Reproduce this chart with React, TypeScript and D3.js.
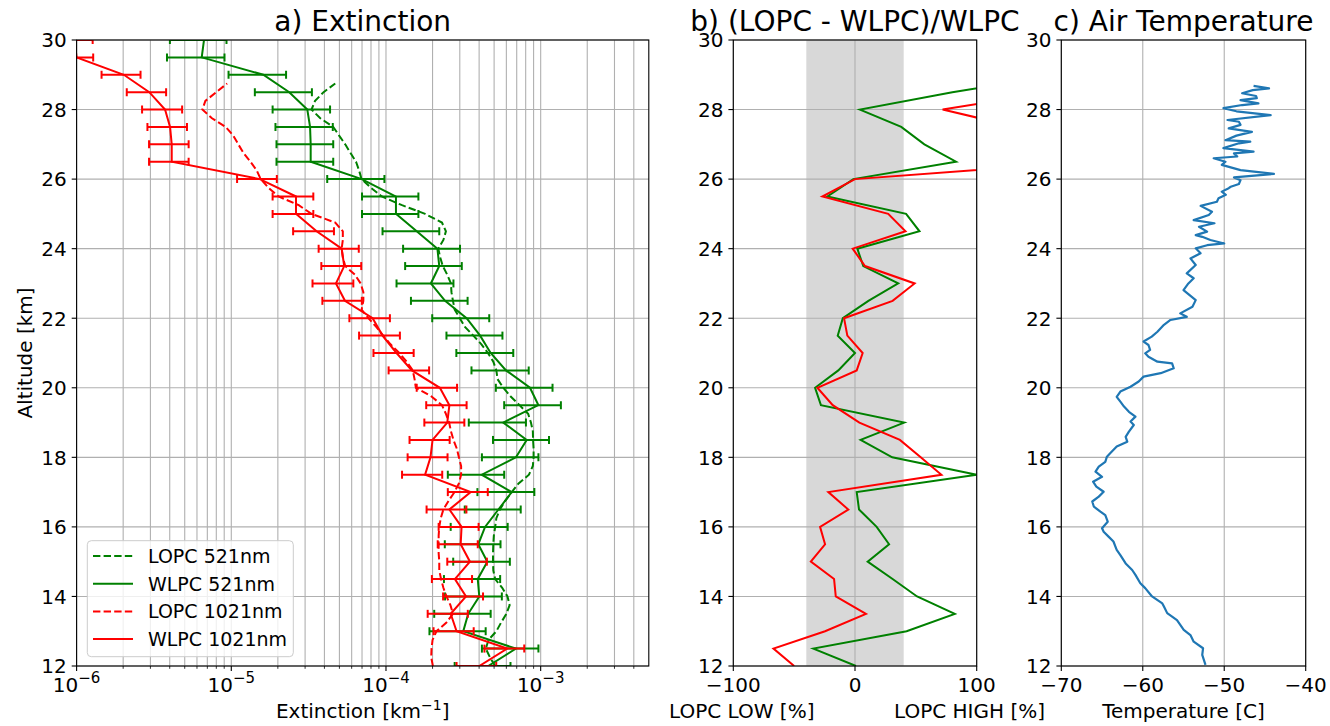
import React, { useEffect, useRef } from "react";
import * as d3 from "d3";

// a) extinction, WLPC every 0.5 km (with error bars)
const altWLPC = [12, 12.5, 13, 13.5, 14, 14.5, 15, 15.5, 16, 16.5, 17, 17.5, 18, 18.5, 19, 19.5, 20, 20.5, 21, 21.5, 22, 22.5, 23, 23.5, 24, 24.5, 25, 25.5, 26, 26.5, 27, 27.5, 28, 28.5, 29, 29.5, 30];
const wlpc521 = [4.58e-4, 6.92e-4, 3.16e-4, 3.4e-4, 4.01e-4, 3.92e-4, 4.52e-4, 3.95e-4, 4.37e-4, 5.33e-4, 6.5e-4, 4.16e-4, 6.92e-4, 8.12e-4, 5.73e-4, 9.66e-4, 8.53e-4, 5.97e-4, 4.75e-4, 4.06e-4, 3.32e-4, 2.41e-4, 1.95e-4, 2.21e-4, 2.15e-4, 1.58e-4, 1.16e-4, 1.16e-4, 6.97e-5, 3.26e-5, 3.26e-5, 3.23e-5, 3.1e-5, 2.37e-5, 1.61e-5, 6.44e-6, 6.66e-6];
const wlpc521Err = [1.8e-4, 2.75e-4, 1.25e-4, 1.35e-4, 1.6e-4, 1.55e-4, 1.8e-4, 1.55e-4, 1.75e-4, 2.1e-4, 2.6e-4, 1.65e-4, 2.75e-4, 3.2e-4, 2.3e-4, 3.85e-4, 3.4e-4, 2.4e-4, 1.9e-4, 1.6e-4, 1.33e-4, 9.6e-5, 7.8e-5, 8.8e-5, 8.6e-5, 6.3e-5, 4.6e-5, 4.6e-5, 2.8e-5, 1.3e-5, 1.3e-5, 1.3e-5, 1.25e-5, 9.5e-6, 6.5e-6, 2.6e-6, 2.65e-6];
const wlpc1021 = [4.01e-4, 6.08e-4, 2.86e-4, 2.62e-4, 3.29e-4, 2.79e-4, 3.49e-4, 3.04e-4, 3.08e-4, 2.57e-4, 3.53e-4, 1.79e-4, 1.94e-4, 2.0e-4, 2.49e-4, 2.57e-4, 2.23e-4, 1.47e-4, 1.17e-4, 9.5e-5, 8.2e-5, 5.43e-5, 4.75e-5, 5.37e-5, 5.17e-5, 3.56e-5, 2.62e-5, 2.62e-5, 1.53e-5, 4.12e-6, 4.12e-6, 4.02e-6, 3.73e-6, 2.95e-6, 2.02e-6, 1.0e-6, 0.97e-6];
const wlpc1021Err = [1.15e-4, 1.75e-4, 8.3e-5, 7.6e-5, 9.5e-5, 8.1e-5, 1.0e-4, 8.8e-5, 8.9e-5, 7.4e-5, 1.02e-4, 5.2e-5, 5.6e-5, 5.8e-5, 7.2e-5, 7.5e-5, 6.5e-5, 4.3e-5, 3.4e-5, 2.8e-5, 2.4e-5, 1.55e-5, 1.4e-5, 1.55e-5, 1.5e-5, 1.05e-5, 7.7e-6, 7.7e-6, 4.4e-6, 1.18e-6, 1.18e-6, 1.15e-6, 1.08e-6, 0.84e-6, 0.57e-6, 0.28e-6, 0.3e-6];

// LOPC every 0.25 km
const altLOPC = [12, 12.25, 12.5, 12.75, 13, 13.25, 13.5, 13.75, 14, 14.25, 14.5, 14.75, 15, 15.25, 15.5, 15.75, 16, 16.25, 16.5, 16.75, 17, 17.25, 17.5, 17.75, 18, 18.25, 18.5, 18.75, 19, 19.25, 19.5, 19.75, 20, 20.25, 20.5, 20.75, 21, 21.25, 21.5, 21.75, 22, 22.25, 22.5, 22.75, 23, 23.25, 23.5, 23.75, 24, 24.25, 24.5, 24.75, 25, 25.25, 25.5, 25.75, 26, 26.25, 26.5, 26.75, 27, 27.25, 27.5, 27.75, 28, 28.25, 28.5, 28.75];
const lopc521 = [5.08e-4, 4.7e-4, 4.42e-4, 4.6e-4, 5.17e-4, 5.55e-4, 6.0e-4, 6.3e-4, 6.1e-4, 5.64e-4, 5.08e-4, 4.94e-4, 4.92e-4, 4.92e-4, 4.94e-4, 4.98e-4, 5.08e-4, 5.17e-4, 5.45e-4, 5.9e-4, 6.5e-4, 7.2e-4, 8.4e-4, 8.9e-4, 9.0e-4, 9.0e-4, 8.93e-4, 8.9e-4, 8.65e-4, 8.3e-4, 7.3e-4, 6.4e-4, 5.73e-4, 5.26e-4, 5.17e-4, 4.94e-4, 4.56e-4, 4.14e-4, 3.67e-4, 3.24e-4, 3.0e-4, 2.78e-4, 2.71e-4, 2.65e-4, 2.63e-4, 2.49e-4, 2.33e-4, 2.24e-4, 2.18e-4, 2.35e-4, 2.44e-4, 2.3e-4, 1.79e-4, 1.27e-4, 9.4e-5, 8.0e-5, 6.95e-5, 6.7e-5, 6.4e-5, 5.9e-5, 5.45e-5, 4.98e-5, 4.56e-5, 3.76e-5, 3.3e-5, 3.48e-5, 3.95e-5, 4.7e-5];
const lopc1021 = [2.01e-4, 1.96e-4, 1.97e-4, 2.0e-4, 2.12e-4, 2.46e-4, 2.71e-4, 2.61e-4, 2.46e-4, 2.35e-4, 2.27e-4, 2.21e-4, 2.21e-4, 2.19e-4, 2.19e-4, 2.19e-4, 2.21e-4, 2.26e-4, 2.35e-4, 2.54e-4, 2.77e-4, 2.96e-4, 3.06e-4, 3.06e-4, 2.96e-4, 2.87e-4, 2.73e-4, 2.63e-4, 2.56e-4, 2.44e-4, 2.3e-4, 1.97e-4, 1.56e-4, 1.53e-4, 1.49e-4, 1.36e-4, 1.22e-4, 1.07e-4, 9.6e-5, 8.65e-5, 7.7e-5, 6.96e-5, 7.14e-5, 7.14e-5, 6.86e-5, 6.3e-5, 5.45e-5, 5.26e-5, 5.17e-5, 5.26e-5, 5.26e-5, 4.7e-5, 3.3e-5, 2.73e-5, 2.02e-5, 1.74e-5, 1.55e-5, 1.46e-5, 1.33e-5, 1.2e-5, 1.11e-5, 1.03e-5, 9.2e-6, 7.5e-6, 6.5e-6, 6.8e-6, 8.0e-6, 9.4e-6];

// b) relative difference [%]
const altDiff = [12, 12.5, 13, 13.5, 14, 14.5, 15, 15.5, 16, 16.5, 17, 17.5, 18, 18.5, 19, 19.5, 20, 20.5, 21, 21.5, 22, 22.5, 23, 23.5, 24, 24.5, 25, 25.5, 26, 26.5, 27, 27.5, 28, 28.5, 29];
const diff521 = [0.8, -34.2, 42.4, 82, 51, 30.9, 10.4, 28, 17.8, 3.3, 1.4, 100, 30.6, 4.6, 40.4, -28, -32.8, -13.7, 0, -14.2, -10, 11, 35.5, 6.8, 1.9, 53, 42, -22.7, -1.4, 83, 57, 38, 4.1, 80, 170];
const diff1021 = [-50, -67, -24.6, 9, -15.8, -17.2, -36.3, -24.6, -28.7, -5.5, -21.9, 71, 54, 36.9, 3.6, -18.3, -30.9, 1.4, 6.3, -6.3, -9, 30.9, 49, 8.2, -1.9, 41.5, 27.3, -26.8, 0, 190, 150, 133, 72, 160, null];

// c) air temperature
const tempAlt = [12.03, 12.32, 12.51, 12.7, 12.89, 13.04, 13.32, 13.52, 13.71, 13.8, 14.0, 14.24, 14.38, 14.62, 14.76, 14.95, 15.19, 15.34, 15.58, 15.72, 15.86, 15.96, 16.15, 16.34, 16.44, 16.58, 16.73, 16.87, 17.01, 17.16, 17.3, 17.44, 17.59, 17.73, 17.87, 18.02, 18.12, 18.31, 18.45, 18.59, 18.74, 18.93, 19.03, 19.17, 19.31, 19.46, 19.6, 19.74, 19.89, 20.03, 20.18, 20.32, 20.42, 20.56, 20.7, 20.75, 20.89, 20.99, 21.09, 21.23, 21.33, 21.47, 21.61, 21.81, 21.95, 22.04, 22.14, 22.33, 22.52, 22.81, 23.0, 23.15, 23.29, 23.53, 23.72, 23.87, 24.01, 24.1, 24.15, 24.25, 24.34, 24.39, 24.49, 24.63, 24.73, 24.82, 24.97, 25.06, 25.23, 25.35, 25.45, 25.55, 25.64, 25.74, 25.78, 25.86, 25.97, 26.05, 26.15, 26.26, 26.41, 26.5, 26.6, 26.65, 26.74, 26.79, 26.89, 27.03, 27.08, 27.12, 27.25, 27.36, 27.46, 27.56, 27.65, 27.7, 27.84, 27.95, 28.04, 28.13, 28.18, 28.27, 28.33, 28.39, 28.47, 28.56, 28.61, 28.68];
const tempC = [-52.3, -52.7, -52.6, -53.75, -54.15, -54.97, -55.8, -57.0, -57.4, -57.6, -58.86, -59.7, -60.3, -60.9, -61.3, -62.1, -62.75, -63.2, -63.6, -64.2, -64.8, -65.0, -64.3, -64.6, -65.2, -66.0, -66.2, -65.4, -64.8, -65.7, -66.1, -65.0, -65.8, -65.4, -64.6, -64.4, -64.0, -63.2, -61.9, -62.1, -61.7, -61.1, -61.5, -60.9, -61.7, -62.3, -62.75, -63.2, -62.75, -61.5, -60.5, -59.9, -57.8, -56.2, -56.4, -58.2, -59.3, -59.7, -59.1, -59.3, -59.9, -58.9, -58.2, -57.4, -56.6, -54.6, -55.4, -53.9, -53.5, -55.0, -54.4, -53.75, -54.6, -53.5, -54.15, -52.9, -53.5, -52.1, -50.0, -51.7, -52.7, -53.5, -52.1, -53.1, -51.2, -53.75, -51.9, -51.5, -52.9, -50.9, -50.7, -49.8, -50.3, -49.45, -49.2, -48.2, -48.0, -48.8, -43.9, -48.0, -50.3, -49.85, -51.3, -48.4, -48.8, -46.4, -50.1, -48.2, -46.8, -49.85, -48.5, -46.6, -49.45, -48.0, -48.2, -49.6, -44.3, -48.5, -50.1, -47.8, -45.8, -48.0, -46.0, -46.1, -47.8, -46.5, -44.5, -46.4];

const altTicks = [12, 14, 16, 18, 20, 22, 24, 26, 28, 30];
const extTicks = [1e-6, 1e-5, 1e-4, 1e-3];
const diffTicks = [-100, 0, 100];
const tempTicks = [-70, -60, -50, -40];

const legendItems = [
  { label: "LOPC 521nm", color: "green", dash: true },
  { label: "WLPC 521nm", color: "green", dash: false },
  { label: "LOPC 1021nm", color: "red", dash: true },
  { label: "WLPC 1021nm", color: "red", dash: false },
];

const FONT = "DejaVu Sans, sans-serif";
const GRID = "#b0b0b0";
const DASH = "7.4,3.2";

const App = () => {
  const svgRef = useRef<SVGSVGElement>(null);

  useEffect(() => {
    const svg = d3.select(svgRef.current);
    svg.selectAll("*").remove();
    svg.style("font-family", FONT);

    const top = 40;
    const bottom = 666;
    const y = d3.scaleLinear().domain([12, 30]).range([bottom, top]);

    const xA = d3.scaleLog().domain([1e-6, 5e-3]).range([76.6, 648.8]);
    const xB = d3.scaleLinear().domain([-100, 100]).range([733.3, 976.7]);
    const xC = d3.scaleLinear().domain([-70, -40]).range([1061.3, 1305.7]);

    const defs = svg.append("defs");
    const clip = (id: string, x0: number, x1: number) => {
      defs.append("clipPath").attr("id", id)
        .append("rect").attr("x", x0).attr("y", top).attr("width", x1 - x0).attr("height", bottom - top);
    };
    clip("clipA", 76.6, 648.8);
    clip("clipB", 733.3, 976.7);
    clip("clipC", 1061.3, 1305.7);

    const hGrid = (x0: number, x1: number) => {
      altTicks.forEach((t) => {
        svg.append("line").attr("x1", x0).attr("x2", x1).attr("y1", y(t)).attr("y2", y(t))
          .attr("stroke", GRID).attr("stroke-width", 1.1);
      });
    };
    const vGrid = (xs: number[]) => {
      xs.forEach((x) => {
        svg.append("line").attr("x1", x).attr("x2", x).attr("y1", top).attr("y2", bottom)
          .attr("stroke", GRID).attr("stroke-width", 1.1);
      });
    };
    const frame = (x0: number, x1: number) => {
      svg.append("rect").attr("x", x0).attr("y", top).attr("width", x1 - x0).attr("height", bottom - top)
        .attr("fill", "none").attr("stroke", "black").attr("stroke-width", 1.1);
      altTicks.forEach((t) => {
        svg.append("line").attr("x1", x0 - 4.9).attr("x2", x0).attr("y1", y(t)).attr("y2", y(t))
          .attr("stroke", "black").attr("stroke-width", 1.1);
        svg.append("text").attr("x", x0 - 9.8).attr("y", y(t) + 7.3)
          .attr("text-anchor", "end").style("font-size", "20px").text(t);
      });
    };
    const xTicks = (xs: number[], labels: string[]) => {
      xs.forEach((x, i) => {
        svg.append("line").attr("x1", x).attr("x2", x).attr("y1", bottom).attr("y2", bottom + 4.9)
          .attr("stroke", "black").attr("stroke-width", 1.1);
        svg.append("text").attr("x", x).attr("y", bottom + 25.5)
          .attr("text-anchor", "middle").style("font-size", "20px").text(labels[i]);
      });
    };
    const fmt = (v: number) => (v < 0 ? "\u2212" + Math.abs(v) : String(v));

    // ---------- panel a ----------
    const minor: number[] = [];
    [-6, -5, -4, -3].forEach((d) => {
      for (let m = 2; m <= 9; m++) {
        const v = m * Math.pow(10, d);
        if (v < 5e-3) minor.push(v);
      }
    });
    vGrid(minor.map((v) => xA(v)));
    vGrid(extTicks.map((v) => xA(v)));
    hGrid(76.6, 648.8);

    const gA = svg.append("g").attr("clip-path", "url(#clipA)");
    const lineA = d3.line<number>().x((d) => xA(d[0])).y((d) => y(d[1]));

    const drawLopc = (vals: number[], color: string) => {
      gA.append("path")
        .attr("d", lineA(vals.map((v, i) => [v, altLOPC[i]]) as any))
        .attr("fill", "none").attr("stroke", color).attr("stroke-width", 2)
        .attr("stroke-dasharray", DASH);
    };
    const drawWlpc = (vals: number[], errs: number[], color: string) => {
      gA.append("path")
        .attr("d", lineA(vals.map((v, i) => [v, altWLPC[i]]) as any))
        .attr("fill", "none").attr("stroke", color).attr("stroke-width", 2);
      vals.forEach((v, i) => {
        const yy = y(altWLPC[i]);
        const lo = v - errs[i] > 0 ? xA(v - errs[i]) : -50;
        const hi = xA(v + errs[i]);
        gA.append("line").attr("x1", lo).attr("x2", hi).attr("y1", yy).attr("y2", yy)
          .attr("stroke", color).attr("stroke-width", 2);
        [lo, hi].forEach((cx) => {
          gA.append("line").attr("x1", cx).attr("x2", cx).attr("y1", yy - 4).attr("y2", yy + 4)
            .attr("stroke", color).attr("stroke-width", 2);
        });
      });
    };
    drawLopc(lopc521, "green");
    drawWlpc(wlpc521, wlpc521Err, "green");
    drawLopc(lopc1021, "red");
    drawWlpc(wlpc1021, wlpc1021Err, "red");

    frame(76.6, 648.8);
    minor.forEach((v) => {
      svg.append("line").attr("x1", xA(v)).attr("x2", xA(v)).attr("y1", bottom).attr("y2", bottom + 2.8)
        .attr("stroke", "black").attr("stroke-width", 0.8);
    });
    extTicks.forEach((v) => {
      const x = xA(v);
      svg.append("line").attr("x1", x).attr("x2", x).attr("y1", bottom).attr("y2", bottom + 4.9)
        .attr("stroke", "black").attr("stroke-width", 1.1);
      const t = svg.append("text").attr("x", x).attr("y", bottom + 26)
        .attr("text-anchor", "middle").style("font-size", "20px");
      t.append("tspan").text("10");
      t.append("tspan").attr("dy", -9).style("font-size", "15px")
        .text("\u2212" + Math.round(-Math.log10(v)));
    });

    // legend
    const lg = svg.append("g");
    lg.append("rect").attr("x", 87.3).attr("y", 540.7).attr("width", 206).attr("height", 116)
      .attr("rx", 4).attr("fill", "white").attr("fill-opacity", 0.8)
      .attr("stroke", "#cccccc").attr("stroke-width", 1);
    legendItems.forEach((it, i) => {
      const yy = 556 + i * 27.7;
      lg.append("line").attr("x1", 93).attr("x2", 133).attr("y1", yy).attr("y2", yy)
        .attr("stroke", it.color).attr("stroke-width", 2)
        .attr("stroke-dasharray", it.dash ? DASH : null);
      lg.append("text").attr("x", 148).attr("y", yy + 6.8).style("font-size", "19px").text(it.label);
    });

    // ---------- panel b ----------
    svg.append("rect").attr("x", xB(-40)).attr("y", top).attr("width", xB(40) - xB(-40))
      .attr("height", bottom - top).attr("fill", "#d8d8d8");
    vGrid(diffTicks.map((v) => xB(v)));
    hGrid(733.3, 976.7);
    const gB = svg.append("g").attr("clip-path", "url(#clipB)");
    const lineB = d3.line<any>().defined((d) => d[0] != null)
      .x((d) => xB(d[0])).y((d) => y(d[1]));
    gB.append("path").attr("d", lineB(diff521.map((v, i) => [v, altDiff[i]])))
      .attr("fill", "none").attr("stroke", "green").attr("stroke-width", 2);
    gB.append("path").attr("d", lineB(diff1021.map((v, i) => [v, altDiff[i]])))
      .attr("fill", "none").attr("stroke", "red").attr("stroke-width", 2);
    frame(733.3, 976.7);
    xTicks(diffTicks.map((v) => xB(v)), diffTicks.map(fmt));

    // ---------- panel c ----------
    vGrid(tempTicks.map((v) => xC(v)));
    hGrid(1061.3, 1305.7);
    const gC = svg.append("g").attr("clip-path", "url(#clipC)");
    const lineC = d3.line<number>().x((d) => xC(d[0])).y((d) => y(d[1]));
    gC.append("path").attr("d", lineC(tempC.map((v, i) => [v, tempAlt[i]]) as any))
      .attr("fill", "none").attr("stroke", "#1f77b4").attr("stroke-width", 2.2)
      .attr("stroke-linejoin", "round");
    frame(1061.3, 1305.7);
    xTicks(tempTicks.map((v) => xC(v)), tempTicks.map(fmt));

    // ---------- titles & labels ----------
    const title = (x: number, s: string) =>
      svg.append("text").attr("x", x).attr("y", 31).attr("text-anchor", "middle")
        .style("font-size", "28px").text(s);
    title(362.7, "a) Extinction");
    title(855, "b) (LOPC - WLPC)/WLPC");
    title(1183.5, "c) Air Temperature");

    const xl = svg.append("text").attr("x", 362.7).attr("y", 718).attr("text-anchor", "middle")
      .style("font-size", "20px");
    xl.append("tspan").text("Extinction [km");
    xl.append("tspan").attr("dy", -8).style("font-size", "14px").text("\u22121");
    xl.append("tspan").attr("dy", 8).text("]");

    svg.append("text").attr("x", 669).attr("y", 718).style("font-size", "20px").text("LOPC LOW [%]");
    svg.append("text").attr("x", 1045).attr("y", 718).attr("text-anchor", "end")
      .style("font-size", "20px").text("LOPC HIGH [%]");
    svg.append("text").attr("x", 1183.5).attr("y", 718).attr("text-anchor", "middle")
      .style("font-size", "20px").text("Temperature [C]");

    svg.append("text").attr("transform", `translate(32,${(top + bottom) / 2}) rotate(-90)`)
      .attr("text-anchor", "middle").style("font-size", "20px").text("Altitude [km]");
  }, []);

  return (
    <div style={{ position: "absolute", left: 0, top: 0 }}>
      <svg ref={svgRef} width={1330} height={726}></svg>
    </div>
  );
};

export default App;
